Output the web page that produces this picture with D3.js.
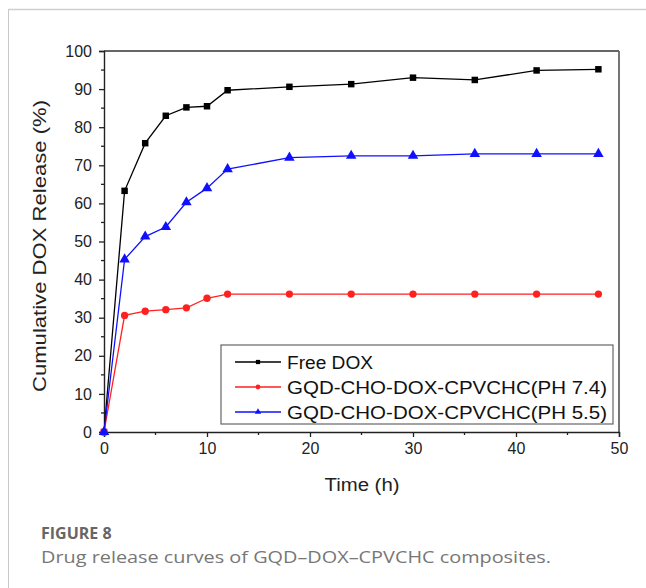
<!DOCTYPE html>
<html>
<head>
<meta charset="utf-8">
<script src="https://cdn.jsdelivr.net/npm/d3@7"></script>
<style>
  body { margin: 0; background: #fff; }
  svg { display: block; }
</style>
</head>
<body>
<div id="vis"></div>
<script>
// release data
var times = [0, 2, 4, 6, 8, 10, 12, 18, 24, 30, 36, 42, 48];
var freeDox = [0, 63.3, 75.8, 83, 85.2, 85.5, 89.7, 90.6, 91.3, 93, 92.4, 94.9, 95.2];
var ph74 = [0, 30.6, 31.7, 32.1, 32.6, 35.1, 36.2, 36.2, 36.2, 36.2, 36.2, 36.2, 36.2];
var ph55 = [0, 45.3, 51.3, 53.8, 60.3, 64, 69, 72, 72.5, 72.5, 73, 73, 73];
var seriesNames = ["Free DOX", "GQD-CHO-DOX-CPVCHC(PH 7.4)", "GQD-CHO-DOX-CPVCHC(PH 5.5)"];
var seriesColors = ["#000000", "#ff2020", "#1010ff"];
var seriesShapes = [d3.symbolSquare, d3.symbolCircle, d3.symbolTriangle];
var xTicks = [0, 10, 20, 30, 40, 50];
var yTicks = [0, 10, 20, 30, 40, 50, 60, 70, 80, 90, 100];

var w = 646, h = 588;
var svg = d3.select("#vis").append("svg")
  .attr("width", w)
  .attr("height", h);

// page frame
svg.append("line").attr("x1", 8.5).attr("x2", w).attr("y1", 9.5).attr("y2", 9.5)
  .attr("stroke", "#cfcfcf").attr("stroke-width", 1.5);
svg.append("line").attr("x1", 8.5).attr("x2", 8.5).attr("y1", 9).attr("y2", h)
  .attr("stroke", "#c8c8c8").attr("stroke-width", 1);

// note: "top" is taken by window.top, so plot edges get their own names
var pLeft = 104, pRight = 619, pTop = 51, pBottom = 432;

var x = d3.scaleLinear().domain([0, 50]).range([pLeft, pRight]);
var y = d3.scaleLinear().domain([0, 100]).range([pBottom, pTop]);

// box top and right
svg.append("line").attr("x1", pLeft).attr("x2", pRight).attr("y1", pTop).attr("y2", pTop)
  .attr("stroke", "#333").attr("stroke-width", 1.3);
svg.append("line").attr("x1", pRight).attr("x2", pRight).attr("y1", pTop).attr("y2", pBottom)
  .attr("stroke", "#666").attr("stroke-width", 1.8);

// minor ticks
var xMinor = d3.range(5, 50, 10);
var yMinor = d3.range(5, 100, 10);

var xAxis = d3.axisBottom(x).tickValues(xTicks).tickSize(5).tickPadding(6);
var yAxis = d3.axisLeft(y).tickValues(yTicks).tickSize(5).tickPadding(7);

var gx = svg.append("g").attr("transform", "translate(0," + pBottom + ")").call(xAxis);
var gy = svg.append("g").attr("transform", "translate(" + pLeft + ",0)").call(yAxis);

[gx, gy].forEach(function(g) {
  g.select(".domain").attr("stroke", "#222").attr("stroke-width", 1.4);
  g.selectAll(".tick line").attr("stroke", "#222").attr("stroke-width", 1.3);
  g.selectAll(".tick text")
    .attr("fill", "#222")
    .style("font-family", "Liberation Sans, Arial, sans-serif")
    .style("font-size", "16px");
});

svg.append("g").selectAll("line").data(xMinor).enter().append("line")
  .attr("x1", function(d){ return x(d); })
  .attr("x2", function(d){ return x(d); })
  .attr("y1", pBottom).attr("y2", pBottom + 3)
  .attr("stroke", "#222").attr("stroke-width", 1.3);

svg.append("g").selectAll("line").data(yMinor).enter().append("line")
  .attr("y1", function(d){ return y(d); })
  .attr("y2", function(d){ return y(d); })
  .attr("x1", pLeft).attr("x2", pLeft - 3)
  .attr("stroke", "#222").attr("stroke-width", 1.3);

// axis titles
svg.append("text")
  .attr("x", 362).attr("y", 491)
  .attr("text-anchor", "middle")
  .attr("textLength", 75).attr("lengthAdjust", "spacingAndGlyphs")
  .style("font-family", "Liberation Sans, Arial, sans-serif")
  .style("font-size", "18px")
  .attr("fill", "#222")
  .text("Time (h)");

svg.append("text")
  .attr("transform", "translate(46,246) rotate(-90)")
  .attr("text-anchor", "middle")
  .attr("textLength", 292).attr("lengthAdjust", "spacingAndGlyphs")
  .style("font-family", "Liberation Sans, Arial, sans-serif")
  .style("font-size", "18px")
  .attr("fill", "#222")
  .text("Cumulative DOX Release (%)");

// series
var allSeries = [freeDox, ph74, ph55];
var line = d3.line()
  .x(function(d, i){ return x(times[i]); })
  .y(function(d){ return y(d); });

allSeries.forEach(function(vals, s) {
  svg.append("path")
    .datum(vals)
    .attr("d", line)
    .attr("fill", "none")
    .attr("stroke", seriesColors[s])
    .attr("stroke-width", 1.3);

  svg.append("g").selectAll("path")
    .data(vals)
    .enter()
    .append("path")
    .attr("transform", function(d, i){ return "translate(" + x(times[i]) + "," + y(d) + ")"; })
    .attr("d", d3.symbol().type(seriesShapes[s]).size(s == 2 ? 48 : 42))
    .attr("fill", seriesColors[s]);
});

// legend
var lx = 221, ly = 345;
svg.append("rect")
  .attr("x", lx).attr("y", ly)
  .attr("width", 392).attr("height", 79)
  .attr("fill", "#fff")
  .attr("stroke", "#666").attr("stroke-width", 1.2);

var legendLens = [86, 320, 320];
seriesNames.forEach(function(name, s) {
  var yy = 362 + s * 25;
  svg.append("line")
    .attr("x1", 235).attr("x2", 281).attr("y1", yy).attr("y2", yy)
    .attr("stroke", seriesColors[s]).attr("stroke-width", 1.3);
  svg.append("path")
    .attr("transform", "translate(258," + yy + ")")
    .attr("d", d3.symbol().type(seriesShapes[s]).size(18))
    .attr("fill", seriesColors[s]);
  svg.append("text")
    .attr("x", 287).attr("y", yy + 6.5)
    .attr("textLength", legendLens[s]).attr("lengthAdjust", "spacingAndGlyphs")
    .style("font-family", "Liberation Sans, Arial, sans-serif")
    .style("font-size", "18px")
    .attr("fill", "#111")
    .text(name);
});

// caption
svg.append("text")
  .attr("x", 41).attr("y", 539)
  .style("font-family", "Open Sans, sans-serif")
  .style("font-size", "16px")
  .style("font-weight", "bold")
  .attr("fill", "#666")
  .text("FIGURE 8");

svg.append("text")
  .attr("x", 41).attr("y", 563)
  .attr("textLength", 510).attr("lengthAdjust", "spacingAndGlyphs")
  .style("font-family", "Open Sans, sans-serif")
  .style("font-size", "16.5px")
  .attr("fill", "#777")
  .text("Drug release curves of GQD\u2013DOX\u2013CPVCHC composites.");
</script>
</body>
</html>
